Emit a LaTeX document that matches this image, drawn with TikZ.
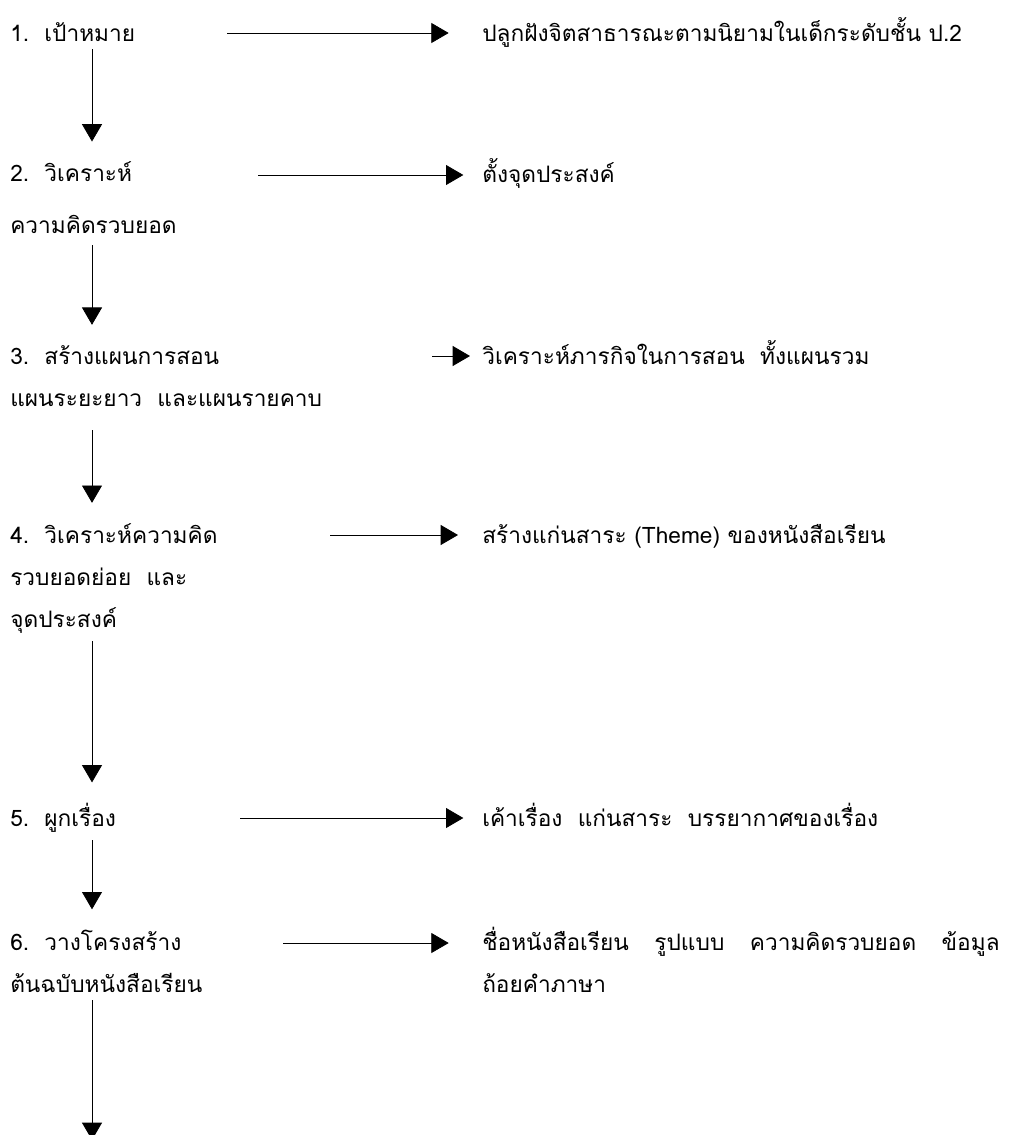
\documentclass[tikz,border=0pt]{standalone}
\usepackage{fontspec}
\newfontfamily\thaifont[Script=Thai]{Loma}
\usetikzlibrary{arrows.meta}
\begin{document}
\begin{tikzpicture}[x=0.75pt,y=-0.75pt,
  txt/.style={anchor=base west,inner sep=0pt,align=left,
    font=\thaifont\fontsize{17}{31.5}\selectfont},
  flow/.style={-{Triangle[length=13pt,width=15pt]},line width=0.6pt},
  down/.style={flow,shorten <=6pt,shorten >=15pt}]
\useasboundingbox (0,0) rectangle (1011,1135);

%% steps (base = last line)
\node[txt] (s1) at (10,41) {1.\ \ เป้าหมาย};
\node[txt] (s2) at (10,233) {2.\ \ วิเคราะห์\\[7pt]ความคิดรวบยอด};
\node[txt] (s3) at (10,406) {3.\ \ สร้างแผนการสอน\\แผนระยะยาว\ \ และแผนรายคาบ};
\node[txt] (s4) at (10,627) {4.\ \ วิเคราะห์ความคิด\\รวบยอดย่อย\ \ และ\\จุดประสงค์};
\node[txt] (s5) at (10,826) {5.\ \ ผูกเรื่อง};
\node[txt] (s6) at (10,992) {6.\ \ วางโครงสร้าง\\ต้นฉบับหนังสือเรียน};

%% results
\node[txt] (t1) at (482,41) {ปลูกฝังจิตสาธารณะตามนิยามในเด็กระดับชั้น ป.2};
\node[txt] (t2) at (482,182) {ตั้งจุดประสงค์};
\node[txt] (t3) at (482,364) {วิเคราะห์ภารกิจในการสอน\ \ ทั้งแผนรวม};
\node[txt] (t4) at (482,543) {สร้างแก่นสาระ (Theme) ของหนังสือเรียน};
\node[txt] (t5) at (482,826) {เค้าเรื่อง\ \ แก่นสาระ\ \ บรรยากาศของเรื่อง};
\node[txt] (t6) at (482,992) {\hbox to 388pt{ชื่อหนังสือเรียน\hfill รูปแบบ\hfill ความคิดรวบยอด\hfill ข้อมูล}\\ถ้อยคำภาษา};

%% arrow starts
\coordinate (sp) at (92,0);
\coordinate (a1) at (227,33);
\coordinate (a2) at (258,175);
\coordinate (a3) at (432,356);
\coordinate (a4) at (330,535);
\coordinate (a5) at (240,818);
\coordinate (a6) at (283,943);
\coordinate (e7) at (92,1140);

%% step to result
\draw[flow,shorten >=25pt] (a1) -- (a1 -| t1.west);
\draw[flow,shorten >=14pt] (a2) -- (a2 -| t2.west);
\draw[flow,shorten >=9pt] (a3) -- (a3 -| t3.west);
\draw[flow,shorten >=18pt] (a4) -- (a4 -| t4.west);
\draw[flow,shorten >=14pt] (a5) -- (a5 -| t5.west);
\draw[flow,shorten >=25pt] (a6) -- (a6 -| t6.west);

%% step to step
\draw[down] (s1.south -| sp) -- (s2.north -| sp);
\draw[down,shorten <=9pt] (s2.south -| sp) -- (s3.north -| sp);
\draw[down,shorten <=18pt] (s3.south -| sp) -- (s4.north -| sp);
\draw[down] (s4.south -| sp) -- (s5.north -| sp);
\draw[down] (s5.south -| sp) -- (s6.north -| sp);
\draw[flow,shorten <=6pt] (s6.south -| sp) -- (e7);
\end{tikzpicture}
\end{document}
